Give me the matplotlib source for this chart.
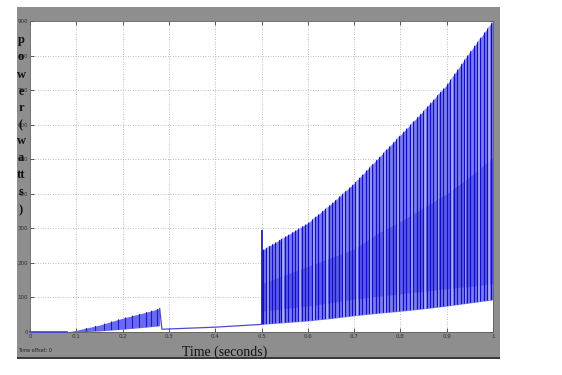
import matplotlib
matplotlib.use("Agg")
import matplotlib.pyplot as plt
from matplotlib.patches import Rectangle
import numpy as np

# ---- data ----
# early band (0.08 - 0.28 s)
t1 = [0.08, 0.10, 0.15, 0.20, 0.25, 0.28]
up1 = [0, 5, 20, 40, 57, 68]
lo1 = [0, 0, 3, 8, 14, 18]
# idle segment
t_zero = [0.0, 0.08]
p_zero = [0, 0]
t_mid = [0.28, 0.285, 0.40, 0.50]
p_mid = [68, 8, 14, 22]
# spike at 0.5 s
t_spike = 0.5
p_spike = [22, 295]
# main band (0.5 - 1 s)
t2 = [0.50, 0.55, 0.60, 0.65, 0.70, 0.75, 0.80, 0.85, 0.90, 0.95, 1.00]
up2 = [235, 275, 315, 370, 430, 500, 570, 640, 715, 810, 900]
lo2 = [22, 27, 32, 39, 47, 54, 60, 67, 75, 84, 93]
dense_up = [140, 165, 190, 215, 240, 285, 320, 360, 400, 450, 505]
dense_lo = [60, 68, 75, 85, 95, 103, 110, 118, 125, 132, 140]
# switching instants (dark strokes)
dark_t = [0.503, 0.509, 0.516, 0.522, 0.529, 0.537, 0.543, 0.551, 0.558, 0.566,
          0.572, 0.579, 0.588, 0.594, 0.601, 0.609, 0.616, 0.622, 0.631, 0.637,
          0.645, 0.652, 0.659, 0.667, 0.674, 0.681, 0.688, 0.696, 0.703, 0.711,
          0.717, 0.726, 0.733, 0.739, 0.747, 0.754, 0.762, 0.769, 0.776, 0.783,
          0.791, 0.798, 0.806, 0.812, 0.820, 0.827, 0.835, 0.842, 0.849, 0.857,
          0.864, 0.871, 0.879, 0.886, 0.893, 0.901, 0.908, 0.915, 0.922, 0.930,
          0.937, 0.944, 0.951, 0.959, 0.966, 0.973, 0.980, 0.988, 0.995]
light_t = [0.513, 0.547, 0.583, 0.613, 0.641, 0.678, 0.707, 0.736, 0.766, 0.795,
           0.824, 0.853, 0.882, 0.911, 0.940, 0.969, 0.991]
early_t = [0.12, 0.14, 0.16, 0.175, 0.19, 0.205, 0.22, 0.235, 0.25, 0.262, 0.274]

x_ticks = [0, 0.1, 0.2, 0.3, 0.4, 0.5, 0.6, 0.7, 0.8, 0.9, 1.0]
x_labels = ["0", "0.1", "0.2", "0.3", "0.4", "0.5", "0.6", "0.7", "0.8", "0.9", "1"]
y_ticks = [0, 100, 200, 300, 400, 500, 600, 700, 800, 900]
y_labels = ["0", "100", "200", "300", "400", "500", "600", "700", "800", "900"]
ylabel_chars = ["p", "o", "w", "e", "r", "(", "w", "a", "tt", "s", ")"]

fig = plt.figure(figsize=(5.62, 3.75), dpi=100)
fig.patch.set_facecolor("white")

# gray scope frame in a background axes
bg = fig.add_axes([0, 0, 1, 1], zorder=-5)
bg.set_xlim(0, 562)
bg.set_ylim(375, 0)
bg.axis("off")
bg.add_patch(Rectangle((17, 7), 483, 351, facecolor="#8e8e8e", edgecolor="none"))
bg.add_patch(Rectangle((17, 357), 483, 2, facecolor="#3a3a3a", edgecolor="none"))

ax = fig.add_axes([30/562, 1-332/375, 463/562, 311/375], zorder=1)
ax.set_facecolor("white")
ax.set_xlim(0, 1)
ax.set_ylim(0, 900)

# idle / early segments
ax.plot(t_zero, p_zero, color="#4040e0", lw=1.2, zorder=3, clip_on=False)
ax.plot(t_mid, p_mid, color="#4a4ad8", lw=0.9, zorder=3)
f1 = ax.fill_between(t1, lo1, up1, color="#6a6af0", lw=0, zorder=2)
v1 = ax.vlines(early_t, 0, 900, color="#1a1ac4", lw=0.8, zorder=2.5)
v1.set_clip_path(f1.get_paths()[0], ax.transData)

# main band
f2 = ax.fill_between(t2, lo2, up2, color="#7c7cf3", lw=0, zorder=2)
ax.fill_between(t2, dense_lo, dense_up, color="#5a5aed", lw=0, zorder=2.2)
vd = ax.vlines(dark_t, 0, 900, color="#1010c0", lw=0.9, zorder=2.5)
vd.set_clip_path(f2.get_paths()[0], ax.transData)
vl = ax.vlines(light_t, 0, 900, color="#b8b8fa", lw=1.2, zorder=2.4)
vl.set_clip_path(f2.get_paths()[0], ax.transData)
ax.vlines([t_spike], p_spike[0], p_spike[1], color="#1010b0", lw=1.2, zorder=3)

# grid and ticks
ax.set_xticks(x_ticks)
ax.set_xticklabels(x_labels)
ax.set_yticks(y_ticks)
ax.set_yticklabels(y_labels)
ax.grid(True, color="#a8a8a8", linestyle=(0, (1, 2)), lw=0.6)
ax.set_axisbelow(True)
ax.tick_params(axis="both", direction="in", length=3, width=0.6, color="#404040",
               labelsize=4, labelcolor="#303030", pad=1.5, top=True, right=True)
for s in ax.spines.values():
    s.set_color("#606060")
    s.set_linewidth(0.6)

# stacked vertical y-label
ys = [40, 57, 75, 92, 108, 125, 141, 158, 175, 192, 210]
for ch, yp in zip(ylabel_chars, ys):
    fig.text(21/562, 1-yp/375, ch, ha="center", va="center",
             family="Liberation Serif", fontweight="bold", fontsize=9, color="#111111")

fig.text(225/562, 1-352/375, "Time (seconds)", ha="center", va="center",
         family="Liberation Serif", fontsize=10, color="#111111")
fig.text(18/562, 1-350/375, "Time offset: 0", ha="left", va="center",
         fontsize=3.5, color="#222222")

fig.savefig("out.png", dpi=100)
